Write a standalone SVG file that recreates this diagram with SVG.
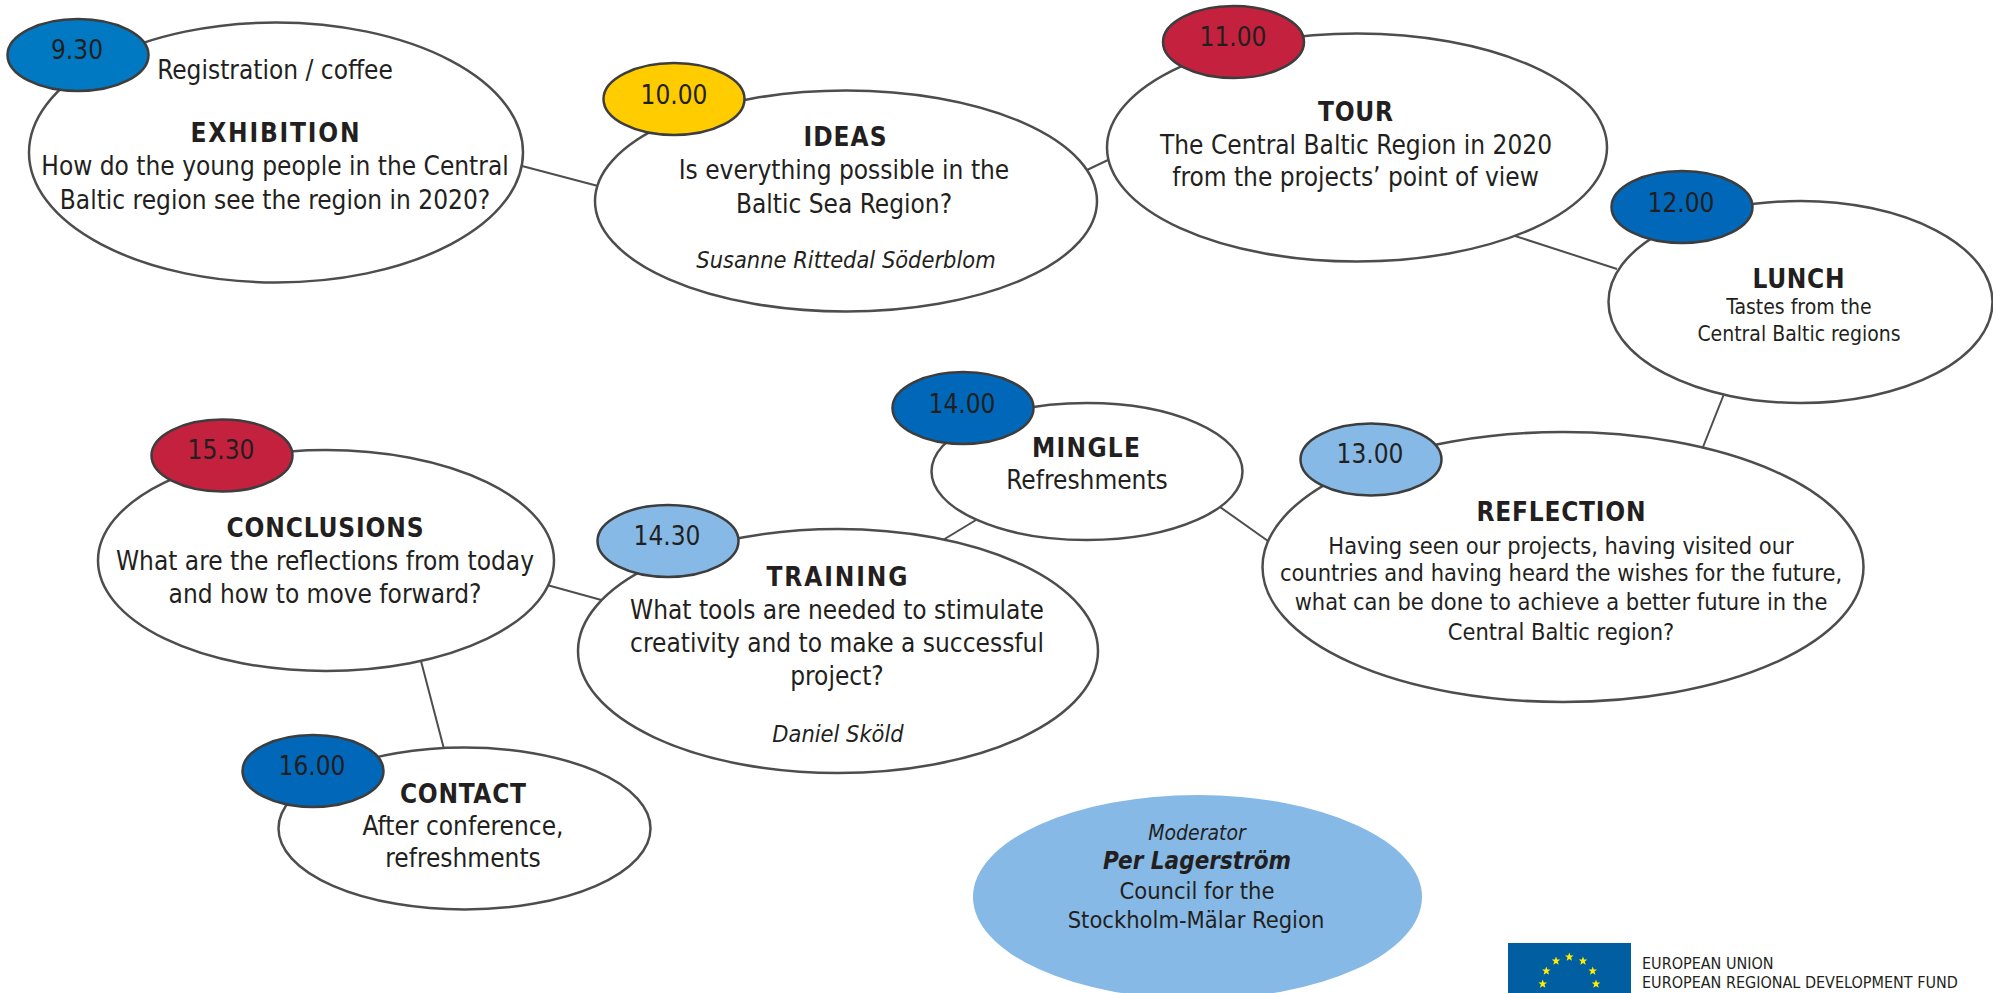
<svg xmlns="http://www.w3.org/2000/svg" width="1993" height="993" viewBox="0 0 1993 993">
<style>
text{font-family:"DejaVu Sans","Liberation Sans",sans-serif;font-stretch:condensed;fill:#231f20;text-anchor:middle;font-size:26px}
.b{font-weight:bold}
.i{font-style:italic;font-size:23.4px}
.s{font-size:21px}
.r{font-size:23.4px}
.m{font-size:23.5px}
.l{text-anchor:start;font-size:16px}
.e{fill:#fff;stroke:#4d4d4d;stroke-width:2.5}
.t{stroke:#3d3d3d;stroke-width:2.5}
.c{stroke:#4d4d4d;stroke-width:2;fill:none}
.d1{fill:#0079c2}.d2{fill:#ffcc00}.d3{fill:#c4213f}.d4{fill:#0067b9}.d5{fill:#86b9e5}
</style>
<defs><polygon id="star" points="0,-4.5 1.1,-1.5 4.3,-1.4 1.8,0.6 2.7,3.7 0,1.9 -2.7,3.7 -1.8,0.6 -4.3,-1.4 -1.1,-1.5" fill="#ffed00"/></defs>
<g id="connectors" class="c">
<line x1="522" y1="166" x2="598" y2="186"/>
<line x1="1087" y1="170" x2="1108" y2="160"/>
<line x1="1512" y1="235" x2="1617" y2="269"/>
<line x1="1724" y1="394" x2="1703" y2="447"/>
<line x1="1220" y1="507" x2="1268" y2="541"/>
<line x1="976" y1="520" x2="938" y2="543"/>
<line x1="547" y1="585" x2="605" y2="601"/>
<line x1="421" y1="661" x2="444" y2="749"/>
</g>
<g id="n930">
<ellipse class="e" cx="276" cy="152.5" rx="247" ry="130"/>
<ellipse class="t d1" cx="78" cy="55" rx="70.5" ry="36"/>
<text x="77" y="59">9.30</text>
<text x="275" y="78.500">Registration / coffee</text>
<text class="b" x="275" y="142" textLength="169">EXHIBITION</text>
<text x="275" y="174.500">How do the young people in the Central</text>
<text x="275" y="208.500">Baltic region see the region in 2020?</text>
</g>
<g id="n1000">
<ellipse class="e" cx="846" cy="201" rx="251" ry="110.5"/>
<ellipse class="t d2" cx="674" cy="99" rx="70.5" ry="36"/>
<text x="674" y="104">10.00</text>
<text class="b" x="845" y="146" textLength="83">IDEAS</text>
<text x="844" y="178.500">Is everything possible in the</text>
<text x="844" y="212.500">Baltic Sea Region?</text>
<text class="i" x="846" y="268">Susanne Rittedal Söderblom</text>
</g>
<g id="n1100">
<ellipse class="e" cx="1357" cy="147.5" rx="250" ry="114"/>
<ellipse class="t d3" cx="1233.5" cy="42" rx="70.5" ry="36"/>
<text x="1233" y="46">11.00</text>
<text class="b" x="1355.500" y="120.500" textLength="75">TOUR</text>
<text x="1356" y="153.500">The Central Baltic Region in 2020</text>
<text x="1355.500" y="186">from the projects’ point of view</text>
</g>
<g id="n1200">
<ellipse class="e" cx="1800.500" cy="302" rx="192" ry="101"/>
<ellipse class="t d4" cx="1682" cy="207" rx="70.5" ry="36"/>
<text x="1681" y="212">12.00</text>
<text class="b" x="1798.500" y="288" textLength="92">LUNCH</text>
<text class="s" x="1799" y="314">Tastes from the</text>
<text class="s" x="1799" y="340.500">Central Baltic regions</text>
</g>
<g id="n1300">
<ellipse class="e" cx="1563" cy="567" rx="300.500" ry="135"/>
<ellipse class="t d5" cx="1371" cy="459.500" rx="70.5" ry="36"/>
<text x="1370" y="463">13.00</text>
<text class="b" x="1561" y="521" textLength="169">REFLECTION</text>
<text class="r" x="1561" y="553.500">Having seen our projects, having visited our</text>
<text class="r" x="1561" y="580.500">countries and having heard the wishes for the future,</text>
<text class="r" x="1561" y="609.500">what can be done to achieve a better future in the</text>
<text class="r" x="1561" y="639.500">Central Baltic region?</text>
</g>
<g id="n1400">
<ellipse class="e" cx="1087" cy="471.500" rx="155.500" ry="68.500"/>
<ellipse class="t d4" cx="963" cy="408" rx="70.5" ry="36"/>
<text x="962" y="413">14.00</text>
<text class="b" x="1086" y="457" textLength="108">MINGLE</text>
<text x="1087" y="488.500">Refreshments</text>
</g>
<g id="n1430">
<ellipse class="e" cx="838" cy="651" rx="260" ry="122"/>
<ellipse class="t d5" cx="668" cy="541" rx="70.5" ry="36"/>
<text x="667" y="545">14.30</text>
<text class="b" x="837" y="586" textLength="141">TRAINING</text>
<text x="837" y="618.500">What tools are needed to stimulate</text>
<text x="837" y="651.500">creativity and to make a successful</text>
<text x="837" y="684.500">project?</text>
<text class="i" x="838" y="742">Daniel Sköld</text>
</g>
<g id="n1530">
<ellipse class="e" cx="326" cy="560.500" rx="228" ry="110.500"/>
<ellipse class="t d3" cx="222" cy="455.500" rx="70.5" ry="36"/>
<text x="221" y="459">15.30</text>
<text class="b" x="325" y="537" textLength="197">CONCLUSIONS</text>
<text x="325" y="570">What are the reflections from today</text>
<text x="325" y="603">and how to move forward?</text>
</g>
<g id="n1600">
<ellipse class="e" cx="464.500" cy="828.500" rx="186" ry="81"/>
<ellipse class="t d4" cx="313" cy="771" rx="70.5" ry="36"/>
<text x="312" y="775">16.00</text>
<text class="b" x="463" y="803" textLength="126">CONTACT</text>
<text x="463" y="835">After conference,</text>
<text x="463" y="867">refreshments</text>
</g>
<g id="moderator">
<ellipse class="d5" cx="1197.500" cy="897" rx="224.500" ry="102"/>
<text class="i" style="font-size:21px" x="1197" y="840">Moderator</text>
<text class="b" style="font-style:italic;font-size:24px" x="1197" y="869">Per Lagerström</text>
<text class="m" x="1197" y="899">Council for the</text>
<text class="m" x="1196" y="928">Stockholm-Mälar Region</text>
</g>
<g id="eu">
<rect x="1508" y="943" width="123" height="50" fill="#005ea1"/>
<use href="#star" x="1569.300" y="957"/>
<use href="#star" x="1556" y="961"/>
<use href="#star" x="1583" y="961"/>
<use href="#star" x="1546.300" y="971"/>
<use href="#star" x="1592.700" y="971"/>
<use href="#star" x="1542.700" y="984"/>
<use href="#star" x="1596" y="984"/>
<text class="l" x="1642" y="969">EUROPEAN UNION</text>
<text class="l" x="1642" y="988">EUROPEAN REGIONAL DEVELOPMENT FUND</text>
</g>
</svg>
